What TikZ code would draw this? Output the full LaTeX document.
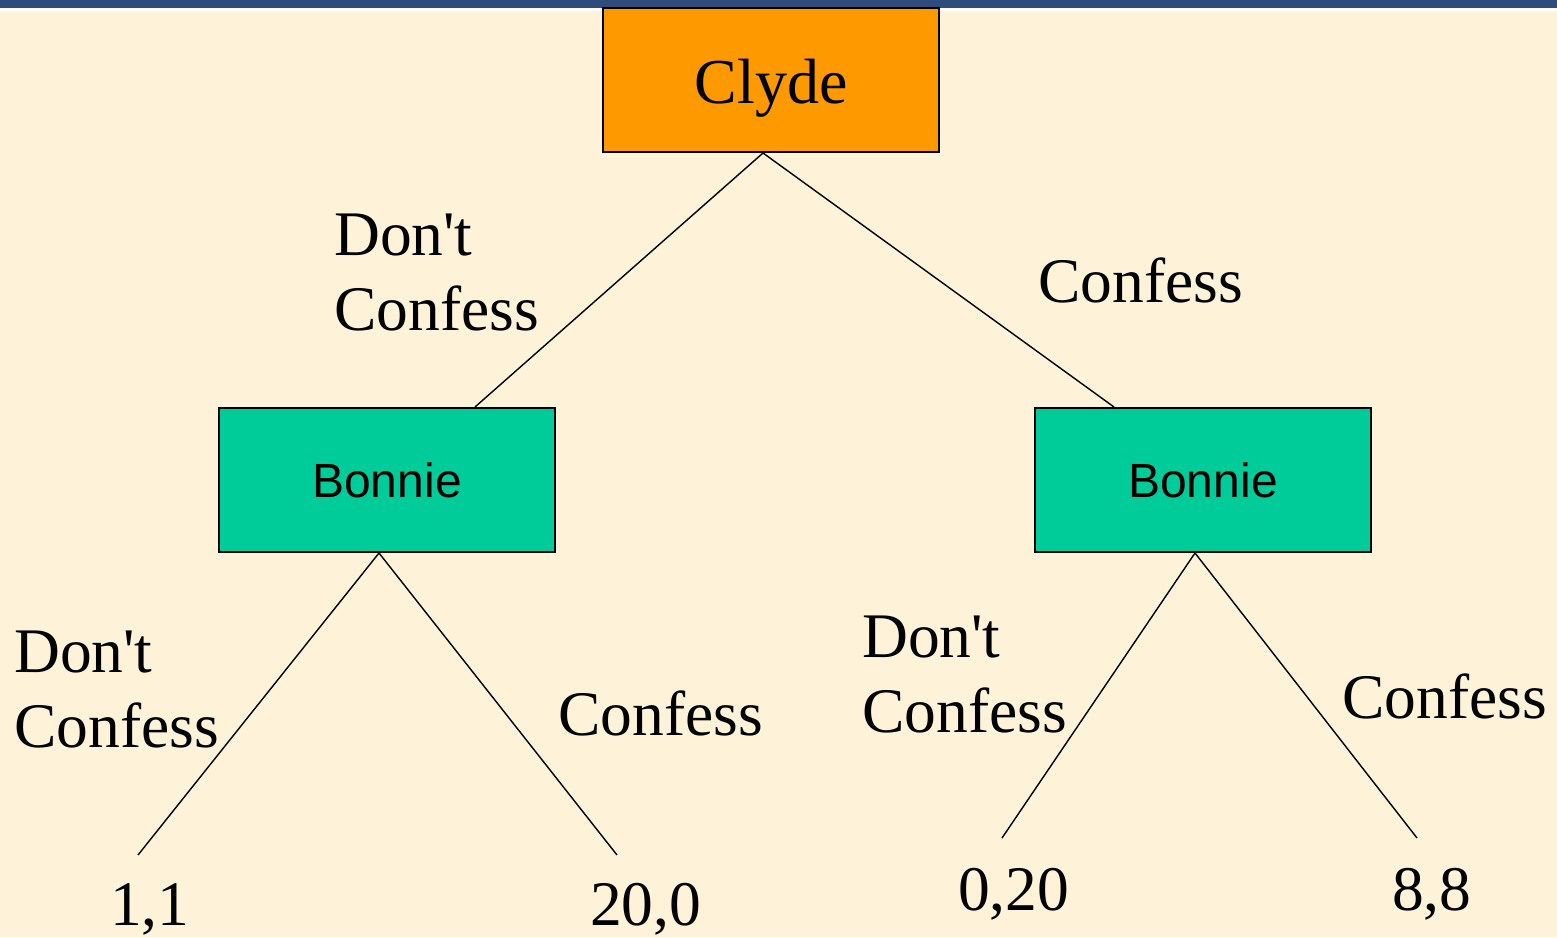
\documentclass[tikz,border=0pt]{standalone}
\usepackage{fontspec}
\usetikzlibrary{calc}
\setmainfont{Liberation Serif}[Ligatures=TeXOff]
\newfontfamily\arialfont{Liberation Sans}
\definecolor{cream}{HTML}{FEF2D8}
\definecolor{barblue}{HTML}{2E4D7B}
\definecolor{clydeorange}{HTML}{FF9900}
\definecolor{bonnieteal}{HTML}{00CC99}
\begin{document}
\begin{tikzpicture}[x=1pt,y=-1pt,
  player/.style={draw=black,line width=2pt,minimum width=336pt,minimum height=144pt,inner sep=0pt,anchor=north west},
  lbl/.style={font=\fontsize{63.5}{75}\selectfont,inner sep=0pt,anchor=base west,align=left},
  edge/.style={line width=1.4pt,black}]
\useasboundingbox (0,0) rectangle (1557,937);
\fill[cream] (0,0) rectangle (1557,937);
\fill[barblue] (0,0) rectangle (1557,8);
\fill[white] (0,8) rectangle (1557,11);
\node[player,fill=clydeorange,font=\fontsize{64}{76}\selectfont] (clyde) at (602,7) {\raisebox{-23pt}[0pt][0pt]{Clyde}};
\node[player,fill=bonnieteal,font=\arialfont\fontsize{48}{56}\selectfont] (bl) at (218,407) {Bonnie};
\node[player,fill=bonnieteal,font=\arialfont\fontsize{48}{56}\selectfont] (br) at (1034,407) {Bonnie};
\coordinate (cs) at ($(clyde.south)+(-8,0)$);
\coordinate (bls) at ($(bl.south)+(-8,0)$);
\coordinate (brs) at ($(br.south)+(-8,0)$);
\coordinate (blin) at ($(bl.north)+(88,0)$);
\coordinate (brin) at ($(br.north)+(-89,0)$);
\coordinate (l1) at (138,855);
\coordinate (l2) at (617,855);
\coordinate (l3) at (1002,838);
\coordinate (l4) at (1417,838);
\draw[edge] (cs) -- (blin);
\draw[edge] (cs) -- (brin);
\draw[edge] (bls) -- (l1);
\draw[edge] (bls) -- (l2);
\draw[edge] (brs) -- (l3);
\draw[edge] (brs) -- (l4);
\node[lbl] (t1) at (334,330) {Don't\\Confess};
\node[lbl] (t2) at (1038,302) {Confess};
\node[lbl] (t3) at (14,747) {Don't\\Confess};
\node[lbl] (t4) at (558,735) {Confess};
\node[lbl] (t5) at (862,732) {Don't\\Confess};
\node[lbl] (t6) at (1342,718) {Confess};
\node[lbl] (p1) at (110,925) {1,1};
\node[lbl] (p2) at (590,925) {20,0};
\node[lbl] (p3) at (958,910) {0,20};
\node[lbl] (p4) at (1392,910) {8,8};
\end{tikzpicture}
\end{document}
